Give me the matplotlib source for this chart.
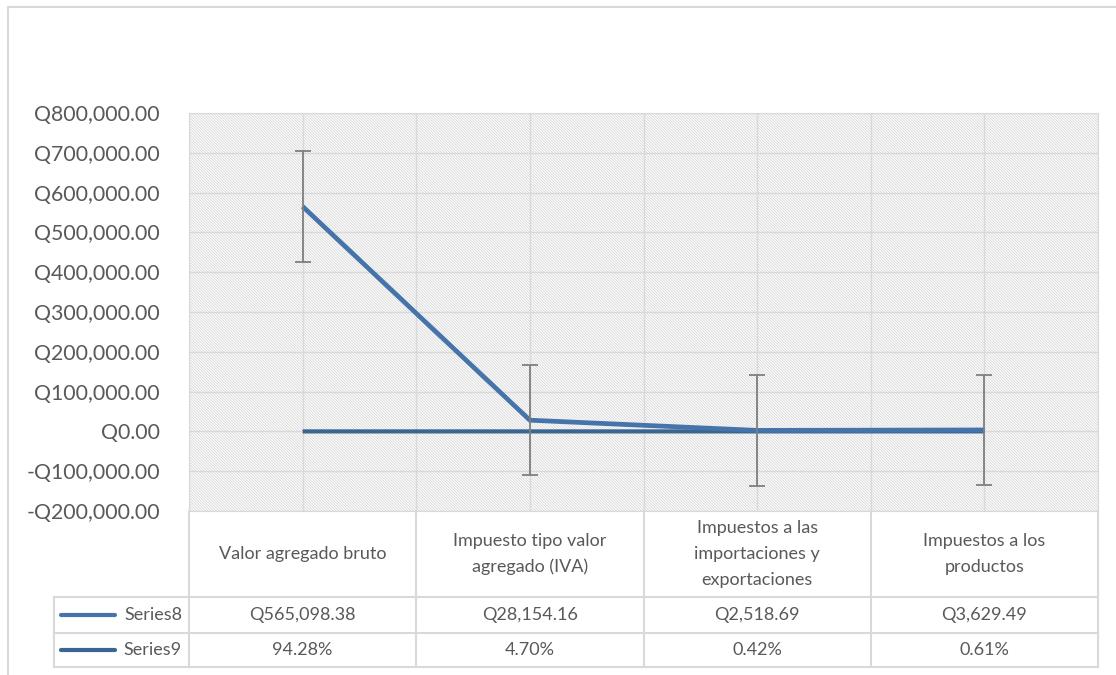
import matplotlib.pyplot as plt
import matplotlib.transforms as mtransforms
from matplotlib.lines import Line2D
from matplotlib.patches import Rectangle
import numpy as np

plt.rcParams['font.family'] = ['Lato', 'DejaVu Sans']
plt.rcParams['hatch.linewidth'] = 0.6

categorias = ['Valor agregado bruto', 'Impuesto tipo valor\nagregado (IVA)',
              'Impuestos a las\nimportaciones y\nexportaciones', 'Impuestos a los\nproductos']
series8 = [565098.38, 28154.16, 2518.69, 3629.49]
series9 = [0.9428, 0.0470, 0.0042, 0.0061]
nombres = ['Series8', 'Series9']
color8 = '#4574aa'
color9 = '#3a6592'
gris = '#d9d9d9'
texto = '#595959'

W, H = 1116, 675
fig = plt.figure(figsize=(W / 100, H / 100), dpi=100)

# capa en pixeles para marco y tabla de datos
capa = fig.add_axes([0, 0, 1, 1])
capa.set_xlim(0, W)
capa.set_ylim(H, 0)
capa.axis('off')

izq, der, arriba, abajo = 189, 1098, 113, 511
ax = fig.add_axes([izq / W, 1 - abajo / H, (der - izq) / W, (abajo - arriba) / H])

x = np.arange(len(categorias))
# barras de error: error estandar de la serie
err = np.std(series8, ddof=1) / np.sqrt(len(series8))

ax.add_patch(Rectangle((0, 0), 1, 1, transform=ax.transAxes, facecolor='none',
                       edgecolor='#d6d6d6', hatch='\\' * 12, lw=0, zorder=0))
ax.plot(x, series9, color=color9, lw=3, solid_capstyle='butt', zorder=3)
ax.plot(x, series8, color=color8, lw=3.4, solid_capstyle='butt', zorder=4)
ax.errorbar(x, series8, yerr=err, fmt='none', ecolor='#7f7f7f', elinewidth=1.3,
            capsize=6, capthick=1.3, zorder=5)

ax.set_xlim(-0.5, len(categorias) - 0.5)
ax.set_ylim(-200000, 800000)
ax.set_yticks(np.arange(-200000, 800001, 100000))
ax.set_yticklabels([('-' if v < 0 else '') + 'Q{:,.2f}'.format(abs(v))
                    for v in np.arange(-200000, 800001, 100000)])
ax.set_xticks(np.arange(-0.5, len(categorias), 0.5))
ax.set_xticklabels([])
ax.grid(True, color=gris, lw=1)
ax.set_axisbelow(True)
ax.tick_params(length=0, labelsize=15.3, labelcolor=texto, pad=21)
for s in ax.spines.values():
    s.set_color(gris)
ax.set_facecolor('none')

# marco del grafico
capa.add_line(Line2D([8, W], [7, 7], color=gris, lw=1.5))
capa.add_line(Line2D([8, 8], [7, H], color=gris, lw=1.5))

# tabla de datos
fila1, fila2, fila3 = 597, 633, 667
mezcla = mtransforms.blended_transform_factory(ax.transData, capa.transData)
bordes = np.arange(-0.5, len(categorias), 1.0)
for b in bordes:
    capa.add_line(Line2D([b, b], [abajo, fila3], color=gris, lw=1.5, transform=mezcla))
for yy in (fila1, fila2, fila3):
    capa.add_line(Line2D([54, der], [yy, yy], color=gris, lw=1.5))
capa.add_line(Line2D([54, 54], [fila1, fila3], color=gris, lw=1.5))

fs = 13
for i, cat in enumerate(categorias):
    capa.text(x[i], (abajo + fila1) / 2, cat, transform=mezcla, ha='center', va='center',
              fontsize=fs, color=texto, linespacing=1.75)
    capa.text(x[i], (fila1 + fila2) / 2, 'Q{:,.2f}'.format(series8[i]), transform=mezcla,
              ha='center', va='center', fontsize=fs, color=texto)
    capa.text(x[i], (fila2 + fila3) / 2, '{:.2f}%'.format(series9[i] * 100), transform=mezcla,
              ha='center', va='center', fontsize=fs, color=texto)

for nombre, color, y0, y1 in [(nombres[0], color8, fila1, fila2), (nombres[1], color9, fila2, fila3)]:
    yc = (y0 + y1) / 2
    capa.add_line(Line2D([61, 115], [yc, yc], color=color, lw=3, solid_capstyle='round'))
    capa.text(182, yc, nombre, ha='right', va='center', fontsize=fs, color=texto)

fig.savefig('out.png', dpi=100)
